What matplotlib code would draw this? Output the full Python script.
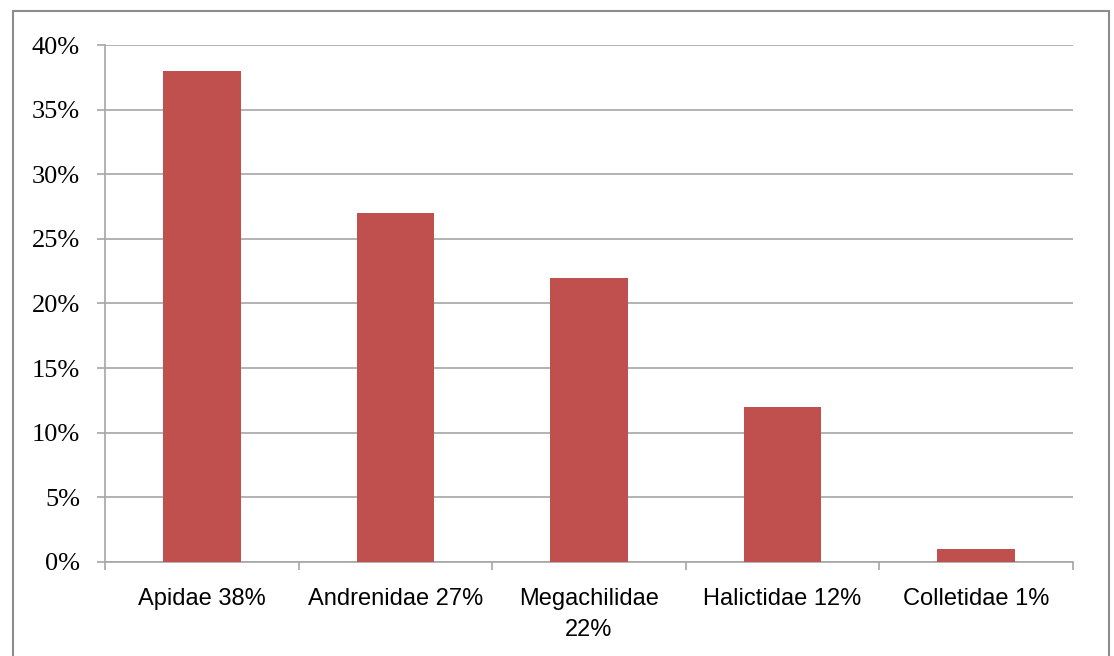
import matplotlib.pyplot as plt
from matplotlib.patches import Rectangle
from matplotlib.ticker import FixedLocator, PercentFormatter

# bee family shares
families = ["Apidae 38%", "Andrenidae 27%", "Megachilidae\n22%",
            "Halictidae 12%", "Colletidae 1%"]
shares = [38, 27, 22, 12, 1]
y_ticks = [0, 5, 10, 15, 20, 25, 30, 35, 40]


def main():
    fig = plt.figure(figsize=(11.14, 6.56), dpi=100)
    ax = fig.add_axes([0.0943, 0.1433, 0.8689, 0.7881])

    # outer chart frame
    fig.patches.append(Rectangle((13 / 1114, -0.1), 1096 / 1114, 1.1 - 11 / 656,
                                 transform=fig.transFigure, fill=False,
                                 edgecolor="#8c8c8c", linewidth=1.5))

    x = list(range(len(families)))
    ax.bar(x, shares, width=0.4, color="#C0504D", zorder=3)

    ax.set_xlim(-0.5, len(families) - 0.5)
    ax.set_ylim(0, 40)
    ax.set_yticks(y_ticks)
    ax.yaxis.set_major_formatter(PercentFormatter(decimals=0))
    ax.grid(axis="y", color="#a6a6a6", linewidth=1.2, zorder=0)

    # x ticks at category boundaries, labels at centres
    ax.xaxis.set_major_locator(FixedLocator([i - 0.5 for i in range(len(families) + 1)]))
    ax.set_xticklabels([])
    ax.set_xticks(x, families, minor=True)
    ax.tick_params(axis="x", which="major", length=6, color="#a6a6a6", width=1.2)
    ax.tick_params(axis="x", which="minor", length=0, pad=19, labelsize=17,
                   labelfontfamily="Liberation Sans")
    for lab in ax.get_xticklabels(minor=True):
        lab.set_linespacing(1.5)

    ax.tick_params(axis="y", length=6, color="#a6a6a6", width=1.2, pad=12,
                   labelsize=19, labelfontfamily="Liberation Serif")

    for side in ["top", "right"]:
        ax.spines[side].set_visible(False)
    for side in ["left", "bottom"]:
        ax.spines[side].set_color("#a6a6a6")
        ax.spines[side].set_linewidth(1.2)

    fig.savefig("out.png", dpi=100)
    return 0


if __name__ == "__main__":
    main()
